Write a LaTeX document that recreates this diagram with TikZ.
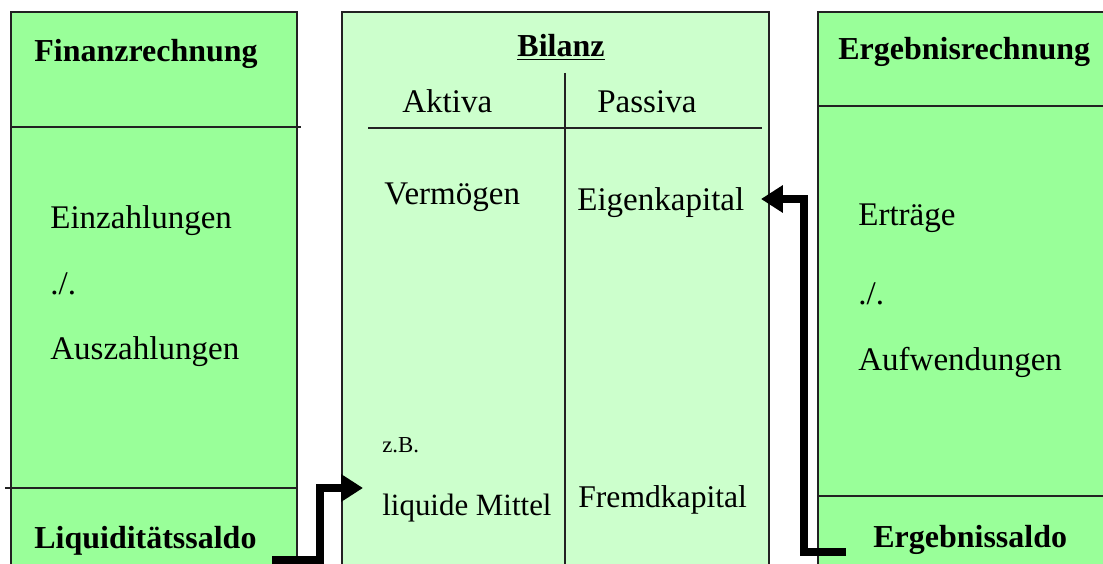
\documentclass[tikz,border=0pt]{standalone}
\usepackage{fontspec}
\setmainfont{Liberation Serif}
\usetikzlibrary{arrows.meta}

\definecolor{rechnung}{HTML}{99FF99}
\definecolor{bilanzgr}{HTML}{CCFFCC}
\definecolor{rand}{HTML}{222222}

\begin{document}
\begin{tikzpicture}[x=0.02cm,y=-0.02cm,
  txt/.style={anchor=base west,inner sep=0pt,font=\fontsize{18.8}{20}\selectfont},
  head/.style={txt,font=\fontsize{18.2}{20}\selectfont\bfseries},
  small/.style={txt,font=\fontsize{13}{15}\selectfont},
  rule/.style={draw=rand,line width=0.8pt},
  flow/.style={line width=4.2pt,line join=miter,-{Triangle[length=12.5pt,width=15pt]}}]

\useasboundingbox (0,0) rectangle (1103,564);
\clip (0,0) rectangle (1103,564);

% the three boxes
\filldraw[rule,fill=rechnung] (11,600) -- (11,12) -- (297,12) -- (297,600);
\filldraw[rule,fill=bilanzgr] (342,600) -- (342,12) -- (769,12) -- (769,600);
\filldraw[rule,fill=rechnung] (818,600) -- (818,12) -- (1120,12) -- (1120,600);

% dividers
\draw[rule] (11,127) -- (301,127);
\draw[rule] (5,488) -- (297,488);
\draw[rule] (368,128) -- (762,128);
\draw[rule] (565,73) -- (565,600);
\draw[rule] (818,106) -- (1120,106);
\draw[rule] (818,496) -- (1120,496);

% Finanzrechnung
\node[head] (fin) at (34,62) {Finanzrechnung};
\node[txt] (ein) at (50,229) {Einzahlungen};
\node[txt] (minus1) at (50,295) {./.};
\node[txt] (aus) at (50,359) {Auszahlungen};
\node[head] (lsaldo) at (34,548) {Liquiditätssaldo};

% Bilanz
\node[head,anchor=base] (bil) at (561,57) {\underline{Bilanz}};
\node[txt] (akt) at (402,113) {Aktiva};
\node[txt] (pas) at (597,113) {Passiva};
\node[txt] (verm) at (384,205) {Vermögen};
\node[txt] (ek) at (577,211) {Eigenkapital};
\node[small] (zb) at (382,453) {z.B.};
\node[txt,font=\fontsize{17.6}{19}\selectfont] (liq) at (382,515) {liquide Mittel};
\node[txt,font=\fontsize{18}{20}\selectfont] (fk) at (578,507) {Fremdkapital};

% Ergebnisrechnung
\node[head] (erg) at (838,60) {Ergebnisrechnung};
\node[txt] (ertr) at (858,226) {Erträge};
\node[txt] (minus2) at (858,305) {./.};
\node[txt] (aufw) at (858,371) {Aufwendungen};
\node[head] (esaldo) at (873,547) {Ergebnissaldo};

% connectors
\coordinate (lstart) at (272,560);
\coordinate (ltip) at (363,488);
\coordinate (rstart) at (846,552);
\coordinate (rtip) at (761,199);

\draw[flow] (lstart) -- ++(48,0) |- (ltip);
\draw[flow] (rstart) -- ++(-42,0) |- (rtip);
\end{tikzpicture}
\end{document}
